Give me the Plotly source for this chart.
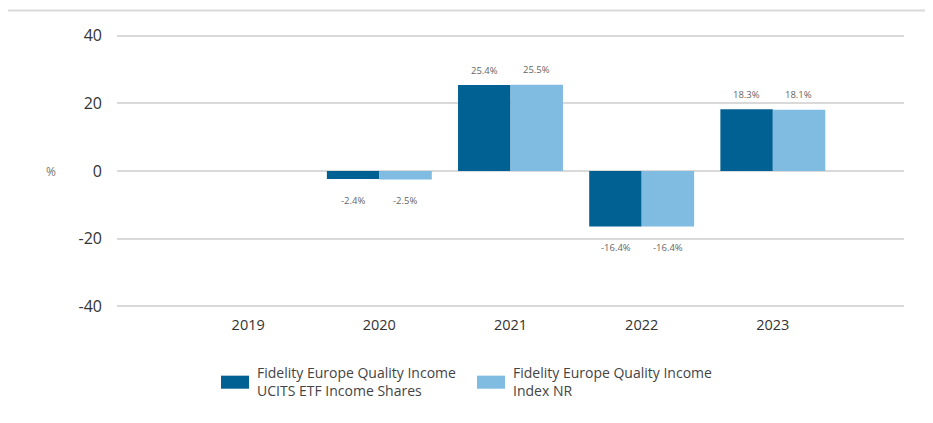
import plotly.graph_objects as go

years = ["2019", "2020", "2021", "2022", "2023"]
fund_name = "Fidelity Europe Quality Income<br>UCITS ETF Income Shares"
index_name = "Fidelity Europe Quality Income<br>Index NR"
fund_values = [None, -2.4, 25.4, -16.4, 18.3]
index_values = [None, -2.5, 25.5, -16.4, 18.1]
y_ticks = [-40, -20, 0, 20, 40]
y_tick_text = ["-40", "-20", "0", "20", "40"]

DARK = "#006192"
LIGHT = "#80bbe1"
GRID = "#d9d9d9"
FONT = "Open Sans, sans-serif"

OFF = 8  # page body margin
W, H = 933 - OFF, 423 - OFF
L, R = 117 - OFF, 904 - OFF
YMIN, YMAX = -42, 42
PX_PER_UNIT = 3.37
ZERO = 171 - OFF
TOP = ZERO - YMAX * PX_PER_UNIT
BOT = ZERO - YMIN * PX_PER_UNIT


def px(x):
    return (x - OFF - L) / (R - L)


def py(y):
    return (BOT - (y - OFF)) / (BOT - TOP)


fig = go.Figure()
fig.add_trace(go.Bar(x=years, y=fund_values, name=fund_name, marker_color=DARK,
                     marker_line_width=0, showlegend=False))
fig.add_trace(go.Bar(x=years, y=index_values, name=index_name, marker_color=LIGHT,
                     marker_line_width=0, showlegend=False))

annotations = []
for series, shift in ((fund_values, -26), (index_values, 26)):
    for i, v in enumerate(series):
        if v is None:
            continue
        annotations.append(dict(
            x=i, y=v, xref="x", yref="y", text=f"{v:.1f}%", showarrow=False,
            xshift=shift, yshift=15 if v > 0 else -21, yanchor="middle", xanchor="center",
            font=dict(size=9.5, color="#666666", family=FONT)))

annotations.append(dict(x=px(51), y=0, xref="paper", yref="y", text="%", showarrow=False,
                        xanchor="center", yanchor="middle",
                        font=dict(size=12, color="#777777", family=FONT)))

shapes = [
    dict(type="line", xref="paper", yref="paper", x0=px(7), x1=px(940), y0=py(11), y1=py(11),
         line=dict(color=GRID, width=2)),
    dict(type="line", xref="paper", yref="paper", x0=px(7), x1=px(7), y0=py(11), y1=py(430),
         line=dict(color=GRID, width=2)),
]

legend_items = [(fund_name, DARK, 221, 255), (index_name, LIGHT, 477, 511)]
for name, color, sx, tx in legend_items:
    shapes.append(dict(type="rect", xref="paper", yref="paper", x0=px(sx), x1=px(sx + 28),
                       y0=py(375), y1=py(388), fillcolor=color, line_width=0))
    annotations.append(dict(x=px(tx), y=py(381), xref="paper", yref="paper", text=name,
                            showarrow=False, xanchor="left", yanchor="middle", align="left",
                            font=dict(size=14, color="#444444", family=FONT)))

fig.update_layout(
    width=W, height=H,
    margin=dict(l=L, r=W - R, t=TOP, b=H - BOT, pad=0),
    paper_bgcolor="white", plot_bgcolor="white",
    barmode="group", bargap=0.2, bargroupgap=0,
    annotations=annotations, shapes=shapes,
    font=dict(family=FONT, color="#333333"),
    xaxis=dict(type="category", range=[-1, 5], showgrid=False, showline=False, ticks="",
               tickfont=dict(size=14.5, color="#333333"), ticklabelstandoff=1),
    yaxis=dict(range=[YMIN, YMAX], tickvals=y_ticks, ticktext=y_tick_text,
               showgrid=True, gridcolor=GRID, gridwidth=2,
               zeroline=True, zerolinecolor=GRID, zerolinewidth=2, showline=False, ticks="",
               tickfont=dict(size=16, color="#333333"), ticklabelstandoff=14),
)

fig.write_html("out.html")
